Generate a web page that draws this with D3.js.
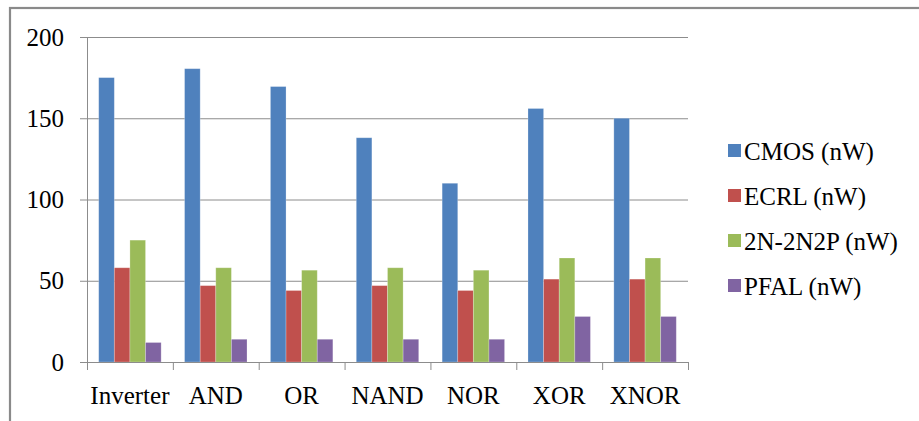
<!DOCTYPE html>
<html>
<head>
<meta charset="utf-8">
<script src="https://cdn.jsdelivr.net/npm/d3@7"></script>
<style>
    body { margin: 0; background: #fff; }
    svg { display: block; }
    svg text { font-family: "Liberation Serif" !important; font-size: 25px !important; }
</style>
</head>
<body>
<div id="chart"></div>
<script>
const categories = ["Inverter", "AND", "OR", "NAND", "NOR", "XOR", "XNOR"];
const seriesNames = ["CMOS (nW)", "ECRL (nW)", "2N-2N2P (nW)", "PFAL (nW)"];
const cmos = [175, 180.5, 169.5, 138, 110, 156, 150];
const ecrl = [58, 47, 44, 47, 44, 51, 51];
const n2n2p = [75, 58, 56.5, 58, 56.5, 64, 64];
const pfal = [12, 14, 14, 14, 14, 28, 28];
const yTicks = [0, 50, 100, 150, 200];
const colors = ["#4F81BD", "#C0504D", "#9BBB59", "#8064A2"];

const allSeries = [cmos, ecrl, n2n2p, pfal];

const width = 919;
const height = 421;

// plot area
const plotLeft = 87, plotRight = 688, plotTop = 37, plotBottom = 362;

const svg = d3.select("#chart").append("svg")
    .attr("width", width)
    .attr("height", height);

// outer frame (only top and left edges are visible)
svg.append("rect")
    .attr("x", 10)
    .attr("y", 8)
    .attr("width", width + 20)
    .attr("height", height + 20)
    .attr("fill", "none")
    .attr("stroke", "#8a8a8a")
    .attr("stroke-width", 2.2);

const xScale = d3.scaleBand().domain(categories).range([plotLeft, plotRight]).paddingInner(0).paddingOuter(0);
const yScale = d3.scaleLinear().domain([0, 200]).range([plotBottom, plotTop]);

// gridlines
svg.append("g")
    .selectAll("line")
    .data(yTicks.filter(d => d > 0))
    .enter().append("line")
    .attr("x1", plotLeft)
    .attr("x2", plotRight)
    .attr("y1", d => yScale(d) + 0.5)
    .attr("y2", d => yScale(d) + 0.5)
    .attr("stroke", "#8c8c8c")
    .attr("stroke-width", 1);

// bars
const inner = d3.scaleBand().domain(d3.range(4)).range([0, xScale.bandwidth()]).paddingOuter(0.75).paddingInner(0);

const groups = svg.append("g")
    .selectAll("g")
    .data(categories)
    .enter().append("g")
    .attr("transform", d => "translate(" + xScale(d) + ",0)");

groups.selectAll("rect")
    .data((c, i) => allSeries.map((s, k) => ({ k: k, v: s[i] })))
    .enter().append("rect")
    .attr("x", d => inner(d.k))
    .attr("y", d => yScale(d.v))
    .attr("width", inner.bandwidth())
    .attr("height", d => plotBottom - yScale(d.v))
    .attr("fill", d => colors[d.k])
    .attr("stroke", "#fff")
    .attr("stroke-opacity", 0.3)
    .attr("stroke-width", 0.8);

// axes
const yAxis = svg.append("g")
    .attr("transform", "translate(" + plotLeft + ",0)")
    .call(d3.axisLeft(yScale).tickValues(yTicks).tickSize(7).tickPadding(16));

const xAxis = svg.append("g")
    .attr("transform", "translate(0," + plotBottom + ")")
    .call(d3.axisBottom(xScale).tickSize(0).tickPadding(24));

// category boundary ticks
svg.append("g")
    .selectAll("line")
    .data(categories.map(c => xScale(c)).concat([plotRight]))
    .enter().append("line")
    .attr("x1", d => d + 0.5)
    .attr("x2", d => d + 0.5)
    .attr("y1", plotBottom)
    .attr("y2", plotBottom + 8)
    .attr("stroke", "#8c8c8c");

[yAxis, xAxis].forEach(a => {
    a.attr("font-family", "Liberation Serif").attr("font-size", 25);
    a.selectAll("path, line").attr("stroke", "#8c8c8c");
    a.selectAll("text").attr("fill", "#000");
});
xAxis.select(".domain").attr("d", "M" + plotLeft + ",0.5H" + plotRight);

// legend
const legend = svg.append("g")
    .selectAll("g")
    .data(seriesNames)
    .enter().append("g")
    .attr("transform", (d, i) => "translate(728," + (151 + i * 45) + ")");

legend.append("rect")
    .attr("x", 0)
    .attr("y", -7)
    .attr("width", 13)
    .attr("height", 13)
    .attr("fill", (d, i) => colors[i]);

legend.append("text")
    .attr("x", 16)
    .attr("y", 9)
    .attr("fill", "#000")
    .text(d => d);
</script>
</body>
</html>
